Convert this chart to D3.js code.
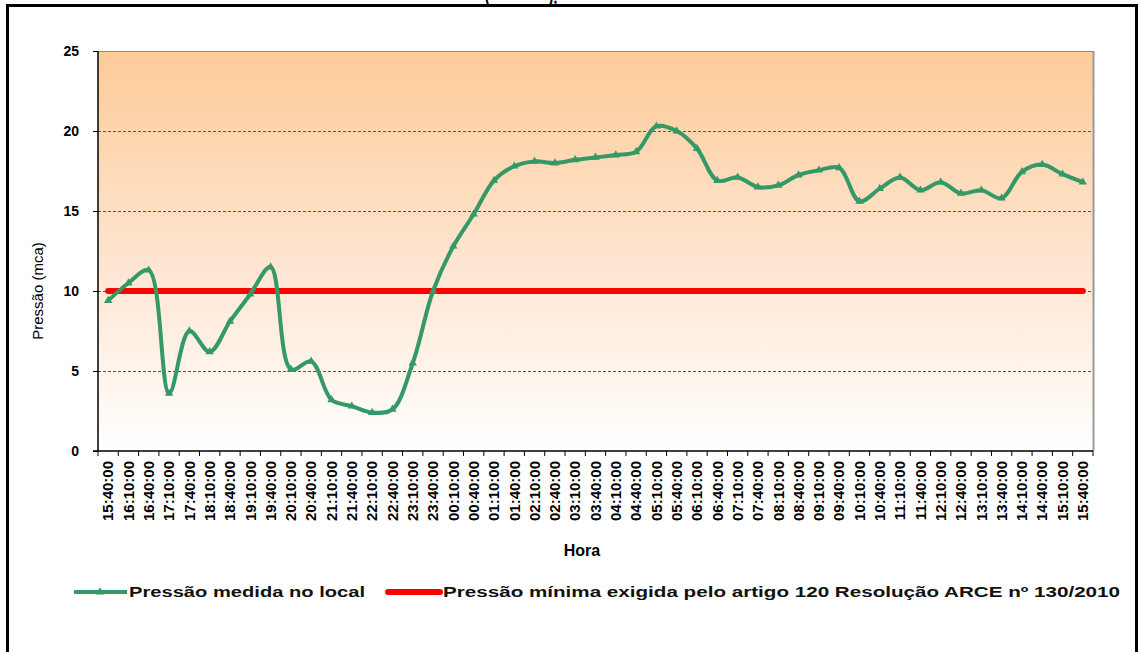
<!DOCTYPE html>
<html><head><meta charset="utf-8">
<script src="https://cdn.jsdelivr.net/npm/d3@7"></script>
<style>
html,body{margin:0;padding:0;background:#fff;}
svg{display:block;font-family:"Liberation Sans",Arial,sans-serif;}
</style></head>
<body><svg id="c" width="1139" height="652"></svg>
<script>
const labels = ["15:40:00","16:10:00","16:40:00","17:10:00","17:40:00","18:10:00","18:40:00","19:10:00","19:40:00","20:10:00","20:40:00","21:10:00","21:40:00","22:10:00","22:40:00","23:10:00","23:40:00","00:10:00","00:40:00","01:10:00","01:40:00","02:10:00","02:40:00","03:10:00","03:40:00","04:10:00","04:40:00","05:10:00","05:40:00","06:10:00","06:40:00","07:10:00","07:40:00","08:10:00","08:40:00","09:10:00","09:40:00","10:10:00","10:40:00","11:10:00","11:40:00","12:10:00","12:40:00","13:10:00","13:40:00","14:10:00","14:40:00","15:10:00","15:40:00"];
const pressure = [9.4,10.5,11.3,3.6,7.5,6.2,8.1,9.8,11.5,5.1,5.6,3.2,2.8,2.4,2.6,5.5,10.0,12.8,14.8,16.9,17.8,18.1,18.0,18.2,18.35,18.5,18.7,20.3,20.0,18.9,16.9,17.1,16.5,16.6,17.25,17.55,17.7,15.6,16.4,17.1,16.3,16.8,16.1,16.3,15.8,17.45,17.9,17.3,16.8];
const minimum = 10;
const yTicks = [0,5,10,15,20,25];
const seriesNames = ["Pressão medida no local","Pressão mínima exigida pelo artigo 120 Resolução ARCE nº 130/2010"];

const svg = d3.select("#c");
const L=98, R=1093, T=51, B=451;
const x = d3.scaleBand().domain(d3.range(labels.length)).range([L,R]).padding(0);
const y = d3.scaleLinear().domain([0,25]).range([B,T]);
const cx = i => x(i)+x.bandwidth()/2;

// partial title cut at top (as in reference)
svg.append("text").attr("x",485).attr("y",3).attr("font-size",15).attr("font-weight","bold")
  .attr("xml:space","preserve").text("(              ),");

// outer border
svg.append("rect").attr("x",7.5).attr("y",5.5).attr("width",1129).attr("height",700)
  .attr("fill","none").attr("stroke","#000").attr("stroke-width",3);

// background gradient
const defs = svg.append("defs");
const g = defs.append("linearGradient").attr("id","bg").attr("x1",0).attr("y1",0).attr("x2",0).attr("y2",1);
g.append("stop").attr("offset","0%").attr("stop-color","#fecb98");
g.append("stop").attr("offset","55%").attr("stop-color","#fee6d3");
g.append("stop").attr("offset","100%").attr("stop-color","#ffffff");
svg.append("rect").attr("x",L).attr("y",T).attr("width",R-L).attr("height",B-T).attr("fill","url(#bg)");

// gridlines
svg.append("g").selectAll("line").data(yTicks.filter(v=>v>0 && v<25)).join("line")
  .attr("x1",L).attr("x2",R).attr("y1",d=>y(d)+0.5).attr("y2",d=>y(d)+0.5)
  .attr("stroke","#555").attr("stroke-width",1).attr("stroke-dasharray","3,2");
svg.append("line").attr("x1",L).attr("x2",R).attr("y1",T+0.5).attr("y2",T+0.5).attr("stroke","#888");
svg.append("line").attr("x1",R+0.5).attr("x2",R+0.5).attr("y1",T).attr("y2",B).attr("stroke","#999").attr("stroke-width",2);

// y axis
const ya = svg.append("g").attr("transform",`translate(${L},0)`)
  .call(d3.axisLeft(y).tickValues(yTicks).tickSize(5).tickPadding(14));
ya.select(".domain").attr("stroke","#000").attr("stroke-width",1.5).attr("d",`M0,${T}V${B}`);
ya.selectAll(".tick line").attr("stroke","#000");
ya.selectAll("text").style("font-size","14px").style("font-weight","bold").attr("fill","#000")
  .style("font-family","Liberation Sans, Arial, sans-serif");

// x axis
const xa = svg.append("g").attr("transform",`translate(0,${B})`)
  .call(d3.axisBottom(x).tickFormat(i=>labels[i]).tickSize(0));
xa.select(".domain").attr("stroke","#000").attr("stroke-width",1.5).attr("d",`M${L-5},0H${R}`);
xa.selectAll(".tick text").style("font-size","15px").style("font-weight","bold").attr("fill","#000")
  .style("font-family","Liberation Sans, Arial, sans-serif")
  .attr("transform","rotate(-90)").attr("text-anchor","end").attr("x",-10).attr("y",0).attr("dy","0.35em");
svg.append("g").selectAll("line").data(d3.range(labels.length+1)).join("line")
  .attr("x1",i=>L+i*x.bandwidth()).attr("x2",i=>L+i*x.bandwidth())
  .attr("y1",B).attr("y2",B+5).attr("stroke","#000");

// axis titles
svg.append("text").attr("transform","translate(43,291) rotate(-90)").attr("text-anchor","middle")
  .attr("font-size",15).attr("fill","#000").text("Pressão (mca)");
svg.append("text").attr("x",582).attr("y",556).attr("text-anchor","middle")
  .attr("font-size",16).attr("font-weight","bold").attr("fill","#000").text("Hora");

// red min line
svg.append("line").attr("x1",cx(0)).attr("x2",cx(labels.length-1)).attr("y1",y(minimum)).attr("y2",y(minimum))
  .attr("stroke","#ff0000").attr("stroke-width",6).attr("stroke-linecap","round");

// green line
const green = "#339966";
const line = d3.line().x((d,i)=>cx(i)).y(d=>y(d)).curve(d3.curveCatmullRom.alpha(0.5));
svg.append("path").datum(pressure).attr("d",line).attr("fill","none")
  .attr("stroke",green).attr("stroke-width",4).attr("stroke-linejoin","round");
const tri = d3.symbol().type(d3.symbolTriangle).size(30);
svg.append("g").selectAll("path").data(pressure).join("path")
  .attr("d",tri).attr("transform",(d,i)=>`translate(${cx(i)},${y(d)})`).attr("fill",green);

// legend
const ly = 592;
svg.append("line").attr("x1",74).attr("x2",127).attr("y1",ly).attr("y2",ly).attr("stroke",green).attr("stroke-width",4);
svg.append("path").attr("d",tri).attr("transform",`translate(100,${ly})`).attr("fill",green);
svg.append("text").attr("x",129).attr("y",ly+5).attr("font-size",14).attr("font-weight","bold").attr("fill","#111")
  .attr("textLength",236).attr("lengthAdjust","spacingAndGlyphs").text(seriesNames[0]);
svg.append("line").attr("x1",388).attr("x2",440).attr("y1",ly).attr("y2",ly).attr("stroke","#ff0000").attr("stroke-width",6).attr("stroke-linecap","round");
svg.append("text").attr("x",443).attr("y",ly+5).attr("font-size",14).attr("font-weight","bold").attr("fill","#111")
  .attr("textLength",677).attr("lengthAdjust","spacingAndGlyphs").text(seriesNames[1]);
</script></body></html>
